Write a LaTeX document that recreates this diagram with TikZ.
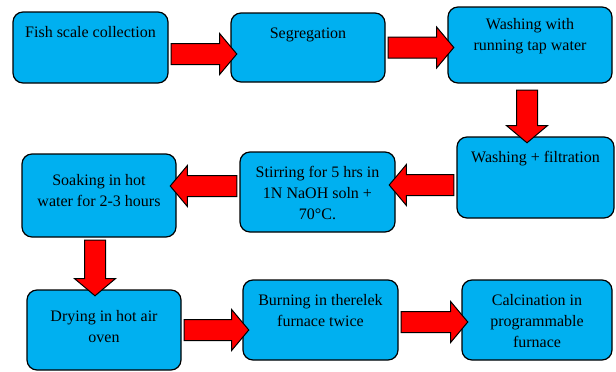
\documentclass[tikz,border=0pt]{standalone}
\usepackage{fontspec}
\setmainfont{Liberation Serif}
\usetikzlibrary{shapes.arrows,calc}

\definecolor{boxblue}{RGB}{0,176,240}

% block arrow from one point to another
\newcommand{\flowarrow}[2]{%
  \path let \p1=#1, \p2=#2, \n1={veclen(\x2-\x1,\y2-\y1)} in
    #1 -- #2 node[bigarrow, midway, sloped, allow upside down, minimum height=\n1+4pt] {};}

\begin{document}
\begin{tikzpicture}[
    x=1pt, y=-1pt,
    stepbox/.style={rectangle, draw=black, line width=1.2pt, fill=boxblue, rounded corners=10pt, inner sep=0pt},
    boxtext/.style={anchor=north, yshift=-15pt, align=center, inner sep=0pt, font=\fontsize{16pt}{21pt}\selectfont},
    bigarrow/.style={single arrow, draw=black, line width=1pt, fill=red, inner xsep=0pt, inner ysep=10pt,
        single arrow head extend=10pt, single arrow tip angle=100, minimum width=0pt}
]
\useasboundingbox (0,0) rectangle (616,372);

% Top row
\node[stepbox, minimum width=155pt, minimum height=71pt, label={[boxtext]north:Fish scale collection}] (collect) at (90.5,47.5) {};
\node[stepbox, minimum width=154pt, minimum height=69pt, label={[boxtext]north:Segregation}] (segregate) at (308,47.5) {};
\node[stepbox, minimum width=164pt, minimum height=76pt, label={[boxtext, yshift=3pt]north:Washing with\\running tap water}] (washtap) at (530,45) {};

% Middle row
\node[stepbox, minimum width=157pt, minimum height=81pt, label={[boxtext]north:Washing + filtration}] (washfilter) at (535.5,177.5) {};
\node[stepbox, minimum width=155pt, minimum height=80pt, label={[boxtext]north:Stirring for 5 hrs in\\1N NaOH soln +\\70°C.}] (stir) at (317.5,192) {};
\node[stepbox, minimum width=154pt, minimum height=83pt, label={[boxtext, yshift=-6pt]north:Soaking in hot\\water for 2-3 hours}] (soak) at (99,195.5) {};

% Bottom row
\node[stepbox, minimum width=154pt, minimum height=80pt, label={[boxtext, yshift=-6pt]north:Drying in hot air\\oven}] (dry) at (104,330) {};
\node[stepbox, minimum width=155pt, minimum height=80pt, label={[boxtext]north:Burning in therelek\\furnace twice}] (burn) at (320.5,320) {};
\node[stepbox, minimum width=150pt, minimum height=80pt, label={[boxtext]north:Calcination in\\programmable\\furnace}] (calcine) at (537,320) {};

% Arrows
\flowarrow{($(collect.east)+(0,6.5)$)}{($(segregate.west)+(0,6.5)$)}
\flowarrow{(segregate.east)}{(segregate.east -| washtap.west)}
\flowarrow{($(washtap.south)+(-3,4)$)}{($(washtap.south |- washfilter.north)+(-3,0)$)}
\flowarrow{($(washfilter.west)+(0,7.5)$)}{($(stir.east)+(0,-7)$)}
\flowarrow{($(stir.west)+(0,-6)$)}{($(soak.east)+(0,-9.5)$)}
\flowarrow{($(soak.south)+(-4,0)$)}{($(dry.north)+(-9,0)$)}
\flowarrow{(dry.east)}{(dry.east -| burn.west)}
\flowarrow{($(burn.east)+(0,2)$)}{($(calcine.west)+(0,2)$)}

\end{tikzpicture}
\end{document}
